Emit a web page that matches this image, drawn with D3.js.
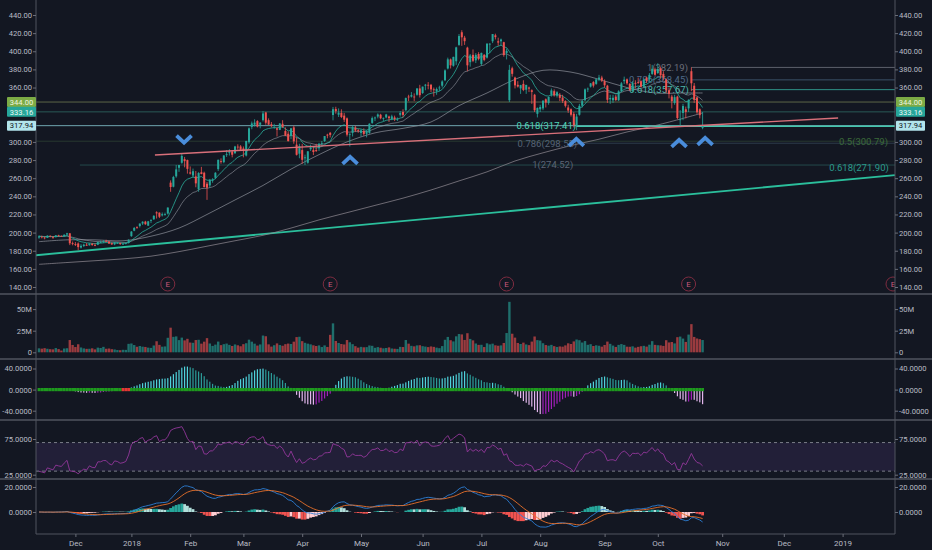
<!DOCTYPE html>
<html>
<head>
<meta charset="utf-8">
<script src="https://cdnjs.cloudflare.com/ajax/libs/d3/7.8.5/d3.min.js"></script>
<style>
  html, body { margin: 0; padding: 0; background: #131722; }
  svg { display: block; font-family: Roboto, "Noto Sans", sans-serif; }
</style>
</head>
<body>
<svg id="chart" width="932" height="550"></svg>
<script>
// daily bars: [open, high, low, close, volume(M)]
const nov17 = [
  [194.5,197.0,193.2,195.9,4.6],[195.6,196.6,193.6,195.1,4.2],[194.6,195.6,192.6,193.9,4.8],
  [194.2,197.0,194.0,196.6,4.1],[196.5,196.9,194.8,195.5,3.6],[195.5,196.0,193.1,194.4,3.4],
  [195.0,197.3,194.6,197.0,4.9],[197.0,197.6,195.4,196.3,3.7],[196.4,196.9,195.3,195.8,2.0],
  [195.8,198.2,195.6,197.6,4.4],[197.9,199.8,196.6,199.2,4.7],[199.2,199.4,186.2,188.2,14.2],
  [188.5,190.2,186.0,187.6,8.5]
];
const dec17 = [
  [187.3,189.6,185.2,186.8,6.1],[188.0,189.2,180.6,184.0,9.3],[183.5,187.2,182.4,185.4,5.6],
  [185.2,187.8,184.0,186.7,4.5],[186.6,188.6,185.4,185.5,4.0],[186.0,188.2,185.6,188.0,4.1],
  [187.9,188.4,185.4,186.3,4.6],[186.2,188.3,185.0,186.0,3.4],[186.6,190.2,186.2,189.6,5.4],
  [189.4,191.2,188.4,189.6,5.0],[189.8,191.6,188.4,190.4,6.3],[191.0,192.1,189.5,190.3,4.1],
  [190.1,190.6,187.4,188.0,4.4],[188.4,189.2,186.4,187.0,3.6],[187.0,189.4,186.1,189.2,3.3],
  [188.6,189.6,187.4,188.8,2.6],[188.5,188.9,186.3,187.5,2.4],[187.3,188.6,186.3,187.8,2.9],
  [188.0,189.2,187.0,188.4,2.8],[188.7,192.6,188.0,192.0,9.8]
];
const jan18 = [
  [196.1,201.7,195.4,201.1,10.2],[202.1,206.2,201.5,205.1,8.4],[206.2,207.0,204.1,205.6,6.4],
  [207.2,210.0,205.6,210.0,7.3],[210.0,212.5,208.4,212.0,6.5],[212.1,213.0,208.6,209.2,6.2],
  [207.6,212.9,207.6,212.4,5.4],[213.0,214.8,210.5,213.8,5.1],[214.7,219.2,214.0,218.5,7.9],
  [222.4,223.5,215.5,221.2,12.8],[222.0,222.3,216.0,217.5,8.6],[219.0,222.2,217.8,220.3,6.5],
  [220.5,222.0,218.6,220.5,6.8],[221.0,227.8,220.0,227.6,16.8],[255.1,257.6,245.0,250.3,28.5],
  [250.6,262.6,249.9,261.3,17.9],[262.0,274.6,260.5,269.7,18.4],[271.5,274.6,267.0,274.6,14.1],
  [277.0,286.8,276.0,284.6,17.0],[281.0,283.5,272.0,278.8,13.8],[280.0,280.5,265.0,270.3,15.6]
];
const feb18 = [
  [266.4,273.0,264.0,265.1,11.3],[263.0,270.6,260.5,267.7,11.0],[262.0,267.9,250.0,254.3,14.2],
  [247.7,266.7,245.0,265.7,14.5],[266.6,272.5,264.3,264.6,10.0],[266.0,267.2,250.0,250.1,12.3],
  [253.9,255.8,236.1,249.5,16.4],[252.0,259.2,249.3,257.9,10.2],[257.3,260.0,255.0,258.3,7.4],
  [260.5,266.7,259.0,266.0,8.9],[270.0,280.5,268.0,280.3,12.4],[278.7,281.9,276.0,278.5,8.3],
  [277.7,285.5,276.5,285.0,9.4],[285.5,291.0,283.5,286.4,10.1],[288.0,292.0,285.0,289.4,8.6],
  [289.4,290.2,283.0,285.9,7.3],[287.5,295.7,287.0,295.0,9.1],[294.8,297.4,291.5,294.2,8.1],
  [295.0,296.5,290.0,291.4,7.0]
];
const mar18 = [
  [292.8,295.0,283.0,290.4,9.4],[285.0,301.2,284.0,301.1,10.5],[299.7,316.0,298.0,315.0,14.6],
  [316.5,322.5,314.0,320.4,12.3],[319.0,325.0,317.0,321.3,10.0],[323.0,324.0,316.0,317.0,7.8],
  [319.0,321.8,315.0,321.2,9.1],[324.0,334.0,322.5,331.4,19.4],[332.5,333.2,319.0,321.2,18.6],
  [324.0,326.0,319.0,319.0,9.2],[319.5,322.0,316.0,317.7,6.6],[318.0,320.0,314.5,318.5,8.2],
  [315.0,316.0,306.0,313.5,10.3],[313.3,320.8,313.0,320.3,8.4],[320.0,324.0,315.5,316.5,7.6],
  [312.0,316.0,306.5,306.9,9.4],[309.0,311.5,300.5,300.9,10.1],[306.5,315.5,303.0,315.0,9.6],
  [316.0,318.0,298.0,300.7,12.3],[297.0,305.0,285.0,285.8,17.6],[287.0,298.0,282.0,295.4,18.0]
];
const apr18 = [
  [291.0,298.0,275.9,280.3,12.9],[282.0,286.0,274.5,283.0,11.0],[277.0,290.0,276.0,289.6,10.0],
  [292.0,297.0,290.0,294.0,9.2],[291.0,295.0,285.5,288.9,8.1],[291.0,298.0,289.0,289.9,7.3],
  [293.0,299.0,290.0,298.0,8.0],[298.0,301.0,295.0,298.7,6.1],[301.0,306.0,300.0,306.5,8.0],
  [308.0,309.0,304.0,307.0,6.2],[310.0,311.0,305.0,307.8,20.2],[329.7,338.6,323.8,336.1,33.5],
  [336.3,338.8,331.1,333.9,13.1],[330.0,337.0,327.5,332.2,10.8],[332.0,336.0,326.3,327.5,9.6],
  [329.0,332.0,322.0,324.5,9.1],[326.0,327.0,306.0,308.0,14.2],[308.0,309.5,295.0,308.9,11.6],
  [310.0,318.0,306.0,316.2,9.4],[316.0,318.0,311.0,312.5,7.1],[313.0,314.5,310.0,312.5,5.4]
];
const may18 = [
  [310.0,314.0,306.0,312.8,6.3],[312.0,315.0,307.0,308.8,5.8],[309.0,313.0,305.0,311.8,6.0],
  [310.0,320.5,309.0,320.1,7.9],[321.0,328.0,320.0,326.3,7.5],[326.0,328.0,323.0,326.9,5.2],
  [328.0,331.5,326.0,330.3,6.0],[330.0,331.0,325.0,326.1,5.3],[326.0,327.0,323.0,326.5,4.6],
  [327.0,331.0,326.0,330.3,5.0],[328.0,329.0,322.0,326.2,5.7],[325.0,330.0,324.0,328.2,4.4],
  [327.0,329.0,323.0,325.2,4.1],[325.0,327.0,323.0,325.7,3.9],[330.0,334.0,328.0,331.8,6.3],
  [333.0,336.0,327.0,329.8,6.1],[335.0,349.0,334.0,348.4,14.2],[350.0,352.0,345.0,349.3,10.0],
  [350.0,355.0,349.0,351.6,7.5],[350.0,353.5,345.0,349.9,6.9],[352.0,359.3,351.0,359.0,8.0],
  [359.0,363.0,349.0,351.6,8.2]
];
const jun18 = [
  [353.9,361.0,353.0,361.0,7.1],[362.0,364.0,357.0,363.1,6.6],[363.0,366.0,358.0,362.5,6.0],
  [363.0,364.0,355.0,358.0,6.8],[358.0,360.0,350.0,357.5,6.3],[356.0,360.0,352.0,358.4,5.4],
  [360.0,362.0,356.0,360.0,4.8],[362.0,368.0,360.0,366.7,7.2],[368.0,380.0,367.0,378.9,14.5],
  [381.0,393.0,380.0,391.1,17.8],[391.0,392.0,381.0,384.5,14.0],[384.0,394.0,383.0,393.8,12.6],
  [389.0,405.0,385.0,404.3,18.5],[407.0,419.0,406.0,416.8,21.2],[421.0,423.2,406.0,415.4,20.7],
  [415.0,417.0,407.0,411.1,14.3],[404.0,405.0,378.0,384.5,22.1],[388.0,397.0,383.0,395.4,15.5],
  [396.0,402.0,388.0,389.5,13.8],[390.0,398.0,387.0,396.0,10.2],[397.0,399.0,390.0,391.4,8.6]
];
const jul18 = [
  [386.0,398.5,384.0,398.2,8.7],[396.0,397.0,389.0,390.5,6.1],[393.0,409.0,392.0,408.3,10.4],
  [408.0,409.0,398.0,408.3,9.2],[411.0,419.0,409.0,419.0,10.0],[417.6,419.4,413.0,415.6,8.1],
  [411.0,415.0,406.0,409.6,7.6],[411.0,414.0,406.0,413.0,8.0],[410.0,410.5,394.0,395.8,10.8],
  [398.0,403.0,391.0,400.5,22.3],[346.0,385.0,344.0,379.5,58.4],[381.2,383.0,372.0,375.1,21.5],
  [371.0,372.0,359.0,362.4,17.0],[363.0,367.0,360.0,361.1,10.8],[359.0,363.0,353.0,362.7,9.6],
  [364.0,368.0,356.0,357.3,11.2],[357.6,363.0,353.0,362.9,9.1],[360.0,361.0,355.0,358.8,8.3],
  [357.0,358.0,342.0,355.2,12.4],[352.0,353.0,333.0,334.9,18.3],[331.0,338.0,327.0,337.5,14.1]
];
const aug18 = [
  [336.0,341.0,333.0,338.5,13.6],[337.0,346.0,335.0,345.5,10.5],[347.0,348.0,338.0,343.4,8.4],
  [343.0,350.0,341.0,349.7,7.7],[352.0,359.0,350.0,356.8,8.6],[356.0,358.0,350.0,351.5,7.1],
  [351.0,356.0,349.0,354.8,6.2],[352.0,354.0,345.0,348.6,6.8],[349.0,352.0,343.0,345.2,6.5],
  [345.0,346.0,338.0,339.8,8.0],[338.0,341.0,332.0,334.6,10.4],[336.0,337.0,328.0,330.0,9.6],
  [331.0,333.0,316.0,318.5,12.6],[318.0,331.0,313.0,328.0,14.8],[330.0,342.0,329.0,339.8,14.0],
  [340.0,347.0,338.0,345.0,11.3],[346.0,359.0,345.0,358.0,13.0],[358.0,360.0,355.0,358.8,8.7],
  [361.0,365.0,360.0,364.6,9.4],[366.0,367.0,360.0,362.1,7.3],[364.0,370.0,363.0,369.0,8.1],
  [369.0,374.0,367.0,371.0,7.6],[371.0,373.0,366.0,367.7,6.5]
];
const sep18 = [
  [367.0,369.0,360.0,362.5,8.5],[362.0,363.0,343.0,346.5,12.4],[347.0,352.0,342.0,348.4,9.8],
  [346.0,352.0,343.0,348.7,7.8],[350.0,352.0,345.0,346.2,6.2],[346.0,357.0,345.0,355.8,8.6],
  [356.0,366.0,355.0,364.6,9.5],[367.0,372.0,364.0,368.7,8.6],[369.0,370.0,363.0,364.6,6.5],
  [364.0,365.0,356.0,357.4,6.4],[356.0,367.0,355.0,365.3,6.9],[365.0,368.0,359.0,364.5,5.4],
  [366.0,371.0,364.0,365.7,6.3],[367.0,368.0,360.0,361.0,7.0],[361.0,370.0,360.0,368.8,7.5],
  [371.0,372.0,365.0,367.2,6.6],[369.0,376.0,366.0,374.0,8.8],[375.0,385.0,374.0,380.7,12.9],
  [380.0,382.0,373.0,374.1,8.6]
];
const oct18 = [
  [376.0,386.8,375.0,380.5,8.2],[381.0,383.0,370.0,373.5,8.0],[375.0,378.0,368.0,371.0,7.4],
  [369.0,370.0,354.0,357.0,14.0],[357.0,360.0,348.0,353.0,11.4],[350.0,352.0,337.0,345.0,11.9],
  [343.0,352.0,341.0,349.4,10.3],[350.0,351.0,325.0,326.4,17.5],[324.0,335.0,318.0,325.0,18.2],
  [332.0,342.0,324.0,339.6,15.9],[336.0,339.0,326.0,333.1,12.0],[337.0,347.0,333.0,346.4,20.5],
  [378.0,382.2,356.0,364.7,32.6],[362.0,365.0,343.0,346.4,17.8],[349.0,350.0,331.0,332.7,16.0],
  [336.0,337.0,326.0,329.5,15.2],[315.5,333.0,314.0,317.94,14.2]
];

// moving averages every 10 bars: [bar, value]
const sma50 = [[0,190],[10,192],[20,192],[30,191],[40,196],[50,205],[60,220],[70,236],[80,252],
  [90,270],[100,286],[110,300],[120,310],[130,315],[140,322],[150,340],[160,354],[170,369],
  [180,379],[190,377],[200,369],[210,360],[220,354],[230,354],[237,354]];
const sma200 = [[0,165],[10,167],[20,169],[30,171],[40,174],[50,179],[60,185],[70,191],[80,197],
  [90,205],[100,214],[110,222],[120,230],[130,238],[140,247],[150,257],[160,267],[170,279],
  [180,288],[190,296],[200,303],[210,311],[220,318],[230,326],[237,332]];

// axis ticks
const priceTicks = [140,160,180,200,220,240,260,280,300,320,340,360,380,400,420,440];
const volTicks = [0, 25, 50];
const sqzTicks = [-40, 0, 40];
const rsiTicks = [25, 75];
const macdTicks = [0, 20];
const monthTicks = [["Dec",13],["2018",33],["Feb",54],["Mar",73],["Apr",94],["May",115],["Jun",137],
  ["Jul",158],["Aug",179],["Sep",202],["Oct",221],["Nov",244],["Dec",266],["2019",287]];

// drawings
const levels = [[344.00,"#5c6648"],[333.16,"#2a5a57"],[317.94,"#6fa7b0"]];
const priceTags = [[344.00,"#7cab45","#eef5e0"],[333.16,"#26a69a","#e8f5f3"],[317.94,"#b2e4ec","#131722"]];
// [price, label, line start bar, label end bar, text colour, line colour]
const fibs = [
  [382.19,"1(382.19)",232.9,231.8,"#6b6f7a","#5d606b"],
  [368.45,"0.786(368.45)",232.9,232.0,"#4f6a88","#3a5068"],
  [357.67,"0.618(357.67)",232.9,232.1,"#4db6ac","#2f9188"],
  [317.41,"0.618(317.41)",191.8,191.8,"#4fd8b8","#45c6ad"],
  [298.55,"0.786(298.55)",192.2,192.2,"#566375","#2c3b4b"],
  [300.79,"0.5(300.79)",-2,303.2,"#3b6b3a","#28392f"],
  [274.52,"1(274.52)",14.6,190.8,"#5c6575","#24494b"],
  [271.90,"0.618(271.90)",null,303.5,"#2b9a8c",null]
];
const pinkLine = [[41.4,285.6],[285.4,326.4]];
const tealLine = [[-1.1,175.0],[305.7,263.4]];
const earnings = [46, 104, 167, 232, 305];
// chevrons: [bar, price of apex, 1 = up / -1 = down]
const chevrons = [[51.8,299.2,-1],[111.1,283.6,1],[191.9,303.4,1],[228.6,302.3,1],[237.9,304.5,1]];
const sqzOnBars = [30, 31, 32];

const bars = [nov17,dec17,jan18,feb18,mar18,apr18,may18,jun18,jul18,aug18,sep18,oct18]
  .flat().map((d, i) => ({ i, o: d[0], h: d[1], l: d[2], c: d[3], v: d[4] }));
const closes = bars.map(d => d.c);

// ---- indicators ----
function ema(vals, n) {
  const k = 2 / (n + 1); let e = vals[0];
  return vals.map((v, i) => (e = i === 0 ? v : v * k + e * (1 - k)));
}
function rsi(vals, n) {
  // seed Wilder averages with the first n changes so the line starts on the first bar
  const ch = vals.slice(1).map((v, i) => v - vals[i]);
  let ag = d3.mean(ch.slice(0, n), c => Math.max(c, 0));
  let al = d3.mean(ch.slice(0, n), c => Math.max(-c, 0));
  const out = [100 - 100 / (1 + ag / al)];
  ch.forEach(c => {
    ag = (ag * (n - 1) + Math.max(c, 0)) / n;
    al = (al * (n - 1) + Math.max(-c, 0)) / n;
    out.push(al === 0 ? 100 : 100 - 100 / (1 + ag / al));
  });
  return out;
}
function linregLast(arr) {
  const n = arr.length; if (n < 2) return arr[0] || 0;
  let sx = 0, sy = 0, sxy = 0, sxx = 0;
  arr.forEach((y, k) => { sx += k; sy += y; sxy += k * y; sxx += k * k; });
  const b = (n * sxy - sx * sy) / (n * sxx - sx * sx), a = (sy - b * sx) / n;
  return a + b * (n - 1);
}
const emaFast = ema(closes, 10), emaSlow = ema(closes, 21);
const rsiVals = rsi(closes, 14);
const dev = bars.map((b, i) => {
  const w = bars.slice(Math.max(0, i - 19), i + 1);
  const hh = d3.max(w, d => d.h), ll = d3.min(w, d => d.l), m = d3.mean(w, d => d.c);
  return b.c - ((hh + ll) / 2 + m) / 2;
});
const sqz = dev.map((d, i) => linregLast(dev.slice(Math.max(0, i - 19), i + 1)));
const e12 = ema(closes, 12), e26 = ema(closes, 26);
const macd = closes.map((c, i) => e12[i] - e26[i]);
const signal = ema(macd, 9);
const hist = macd.map((m, i) => m - signal[i]);

// ---- layout ----
const svg = d3.select("#chart");
const plotL = 36, plotR = 895;
const x = d3.scaleLinear().domain([0, 300]).range([39, 879]);
const yP = d3.scaleLinear().domain([140, 440]).range([287, 15]);
const yV = d3.scaleLinear().domain([0, 50]).range([352.3, 309.1]);
const yS = d3.scaleLinear().domain([-40, 40]).range([410.7, 368.5]);
const yR = d3.scaleLinear().domain([25, 75]).range([474.7, 439]);
const yM = d3.scaleLinear().domain([0, 20]).range([512, 487]);
const panels = { price: [0, 294], vol: [294, 359], sqz: [359, 420], rsi: [420, 479], macd: [479, 534] };

svg.append("rect").attr("width", 932).attr("height", 550).attr("fill", "#131722");
const defs = svg.append("defs");
Object.entries(panels).forEach(([k, [t, b]]) => {
  defs.append("clipPath").attr("id", "clip-" + k).append("rect")
    .attr("x", plotL).attr("y", t).attr("width", plotR - plotL).attr("height", b - t);
});
const layer = k => svg.append("g").attr("clip-path", `url(#clip-${k})`);

// ---- price panel ----
const pg = layer("price");
levels.forEach(([p, col]) => {
  pg.append("line").attr("x1", plotL).attr("x2", plotR).attr("y1", yP(p)).attr("y2", yP(p))
    .attr("stroke", col).attr("stroke-width", 1);
});
fibs.forEach(([p, label, from, labelEnd, tcol, lcol]) => {
  if (from !== null) {
    pg.append("line").attr("x1", x(from)).attr("x2", plotR).attr("y1", yP(p)).attr("y2", yP(p))
      .attr("stroke", lcol).attr("stroke-width", p === 317.41 ? 1.5 : 1);
  }
});
pg.append("line").attr("x1", x(tealLine[0][0])).attr("y1", yP(tealLine[0][1]))
  .attr("x2", x(tealLine[1][0])).attr("y2", yP(tealLine[1][1]))
  .attr("stroke", "#2bbf9c").attr("stroke-width", 1.8);

const maLine = d3.line().x(d => x(d[0])).y(d => yP(d[1])).curve(d3.curveCatmullRom);
pg.append("path").attr("d", maLine(sma200)).attr("fill", "none").attr("stroke", "#8f8a93").attr("stroke-width", 0.9).attr("opacity", 0.8);
pg.append("path").attr("d", maLine(sma50)).attr("fill", "none").attr("stroke", "#8a8e98").attr("stroke-width", 0.9).attr("opacity", 0.8);
const emaLine = d3.line().x((d, i) => x(i)).y(d => yP(d));
pg.append("path").attr("d", emaLine(emaSlow)).attr("fill", "none").attr("stroke", "#a3a7b0").attr("stroke-width", 0.9).attr("opacity", 0.6);
pg.append("path").attr("d", emaLine(emaFast)).attr("fill", "none").attr("stroke", "#2bb39f").attr("stroke-width", 0.9).attr("opacity", 0.85);

fibs.forEach(([p, label, from, labelEnd, tcol]) => {
  pg.append("text").attr("x", x(labelEnd)).attr("y", yP(p) + 3.3).attr("text-anchor", "end")
    .attr("font-size", 9.5).attr("fill", tcol).text(label);
});

const up = "#26a69a", down = "#ef5350";
const cg = pg.append("g");
cg.selectAll("line.wick").data(bars).join("line").attr("class", "wick")
  .attr("x1", d => x(d.i)).attr("x2", d => x(d.i)).attr("y1", d => yP(d.h)).attr("y2", d => yP(d.l))
  .attr("stroke", d => d.c >= d.o ? up : down).attr("stroke-width", 0.8);
cg.selectAll("rect").data(bars).join("rect")
  .attr("x", d => x(d.i) - 1).attr("width", 2)
  .attr("y", d => yP(Math.max(d.o, d.c)))
  .attr("height", d => Math.max(0.8, Math.abs(yP(d.o) - yP(d.c))))
  .attr("fill", d => d.c >= d.o ? up : down);

pg.append("line").attr("x1", x(pinkLine[0][0])).attr("y1", yP(pinkLine[0][1]))
  .attr("x2", x(pinkLine[1][0])).attr("y2", yP(pinkLine[1][1]))
  .attr("stroke", "#d9707a").attr("stroke-width", 1.3);

earnings.forEach(i => {
  pg.append("circle").attr("cx", x(i)).attr("cy", 284).attr("r", 7)
    .attr("fill", "#131722").attr("stroke", "#7d2c40").attr("stroke-width", 1);
  pg.append("text").attr("x", x(i)).attr("y", 287).attr("text-anchor", "middle")
    .attr("font-size", 8).attr("fill", "#c9587a").text("E");
});

chevrons.forEach(([i, p, dir]) => {
  const cx = x(i), cy = yP(p);
  pg.append("path").attr("d", `M${cx - 7.5},${cy + dir * 7}L${cx},${cy}L${cx + 7.5},${cy + dir * 7}`)
    .attr("fill", "none").attr("stroke", "#4a8ddb").attr("stroke-width", 3.8);
});

// ---- volume ----
const vg = layer("vol");
vg.selectAll("rect").data(bars).join("rect")
  .attr("x", d => x(d.i) - 1.2).attr("width", 2.4)
  .attr("y", d => yV(d.v)).attr("height", d => yV(0) - yV(d.v))
  .attr("fill", d => d.c >= d.o ? up : down).attr("opacity", 0.62);

// ---- squeeze momentum ----
const sg = layer("sqz");
sg.selectAll("rect.h").data(sqz).join("rect").attr("class", "h")
  .attr("x", (d, i) => x(i) - 0.6).attr("width", 1.2)
  .attr("y", d => Math.min(yS(d), yS(0))).attr("height", d => Math.abs(yS(d) - yS(0)))
  .attr("fill", (d, i) => {
    const prev = i > 0 ? sqz[i - 1] : 0;
    if (d >= 0) return d > prev ? "#4fd2db" : "#2b9b98";
    return d < prev ? "#e2b6ec" : "#a020b8";
  });
sg.selectAll("rect.z").data(bars).join("rect").attr("class", "z")
  .attr("x", d => x(d.i) - 1.4).attr("width", 2.8)
  .attr("y", yS(0) - 1.6).attr("height", 3.2)
  .attr("fill", d => sqzOnBars.includes(d.i) ? "#e53935" : "#1e9a1e");

// ---- RSI ----
const rg = layer("rsi");
rg.append("rect").attr("x", plotL).attr("width", plotR - plotL)
  .attr("y", yR(70)).attr("height", yR(30) - yR(70)).attr("fill", "#7e57c2").attr("opacity", 0.14);
[70, 30].forEach(v => rg.append("line").attr("x1", plotL).attr("x2", plotR)
  .attr("y1", yR(v)).attr("y2", yR(v)).attr("stroke", "#7a7d88").attr("stroke-dasharray", "3,3"));
rg.append("path").attr("fill", "none").attr("stroke", "#93379b").attr("stroke-width", 0.9)
  .attr("d", d3.line().x((d, i) => x(i)).y(d => yR(d))(rsiVals));

// ---- MACD ----
const mg = layer("macd");
mg.selectAll("rect").data(hist).join("rect")
  .attr("x", (d, i) => x(i) - 1.4).attr("width", 2.8)
  .attr("y", d => Math.min(yM(d), yM(0))).attr("height", d => Math.abs(yM(d) - yM(0)))
  .attr("fill", (d, i) => {
    const prev = i > 0 ? hist[i - 1] : 0;
    if (d >= 0) return d > prev ? "#26a69a" : "#b2dfdb";
    return d > prev ? "#ffcdd2" : "#ef5350";
  });
const mLine = d3.line().x((d, i) => x(i)).y(d => yM(d));
mg.append("path").attr("d", mLine(macd)).attr("fill", "none").attr("stroke", "#2d7fd6").attr("stroke-width", 0.9);
mg.append("path").attr("d", mLine(signal)).attr("fill", "none").attr("stroke", "#e8702a").attr("stroke-width", 0.9);

// ---- frame ----
const frameCol = "#50545f";
[294, 359, 420, 479].forEach(y => svg.append("line").attr("x1", 0).attr("x2", 932)
  .attr("y1", y).attr("y2", y).attr("stroke", frameCol).attr("stroke-width", 1.5));
svg.append("line").attr("x1", plotL).attr("x2", plotR).attr("y1", 534).attr("y2", 534).attr("stroke", frameCol);
[plotL, plotR].forEach(xx => svg.append("line").attr("x1", xx).attr("x2", xx)
  .attr("y1", 0).attr("y2", 534).attr("stroke", frameCol));

// ---- axes ----
const fontSize = 7.6;
function drawAxes(scale, ticks, fmt) {
  const left = svg.append("g").attr("transform", `translate(${plotL},0)`)
    .call(d3.axisLeft(scale).tickValues(ticks).tickSize(3).tickPadding(1).tickFormat(fmt));
  const right = svg.append("g").attr("transform", `translate(${plotR},0)`)
    .call(d3.axisRight(scale).tickValues(ticks).tickSize(3).tickPadding(1).tickFormat(fmt));
  [left, right].forEach(g => {
    g.attr("font-size", fontSize).attr("font-family", "Roboto, 'Noto Sans', sans-serif");
    g.select(".domain").remove();
    g.selectAll("line").attr("stroke", "#6a6d78");
    g.selectAll("text").attr("fill", "#b8bbc4");
  });
}
const fmt4 = v => d3.format(".4f")(v).replace("\u2212", "-");
const hiddenByTags = v => priceTags.some(t => Math.abs(yP(t[0]) - yP(v)) < 9);
drawAxes(yP, priceTicks.filter(v => !hiddenByTags(v)), d3.format(".2f"));
drawAxes(yV, volTicks, v => v === 0 ? "0" : v + "M");
drawAxes(yS, sqzTicks, fmt4);
drawAxes(yR, rsiTicks, fmt4);
drawAxes(yM, macdTicks, fmt4);

priceTags.forEach(([p, bg, fg]) => {
  [[7, 29], [896, 29]].forEach(([bx, bw]) => {
    svg.append("rect").attr("x", bx).attr("y", yP(p) - 5).attr("width", bw).attr("height", 10)
      .attr("fill", bg).attr("rx", 1);
    svg.append("text").attr("x", bx + bw / 2).attr("y", yP(p) + 2.8).attr("text-anchor", "middle")
      .attr("font-size", fontSize).attr("fill", fg).text(p.toFixed(2));
  });
});

const xg = svg.append("g").attr("transform", "translate(0,534)")
  .call(d3.axisBottom(x).tickValues(monthTicks.map(d => d[1])).tickSize(3).tickPadding(3)
    .tickFormat(v => monthTicks.find(d => d[1] === v)[0]));
xg.attr("font-size", 8).attr("font-family", "Roboto, 'Noto Sans', sans-serif");
xg.select(".domain").remove();
xg.selectAll("line").attr("stroke", "#6a6d78");
xg.selectAll("text").attr("fill", "#b8bbc4");
</script>
</body>
</html>
